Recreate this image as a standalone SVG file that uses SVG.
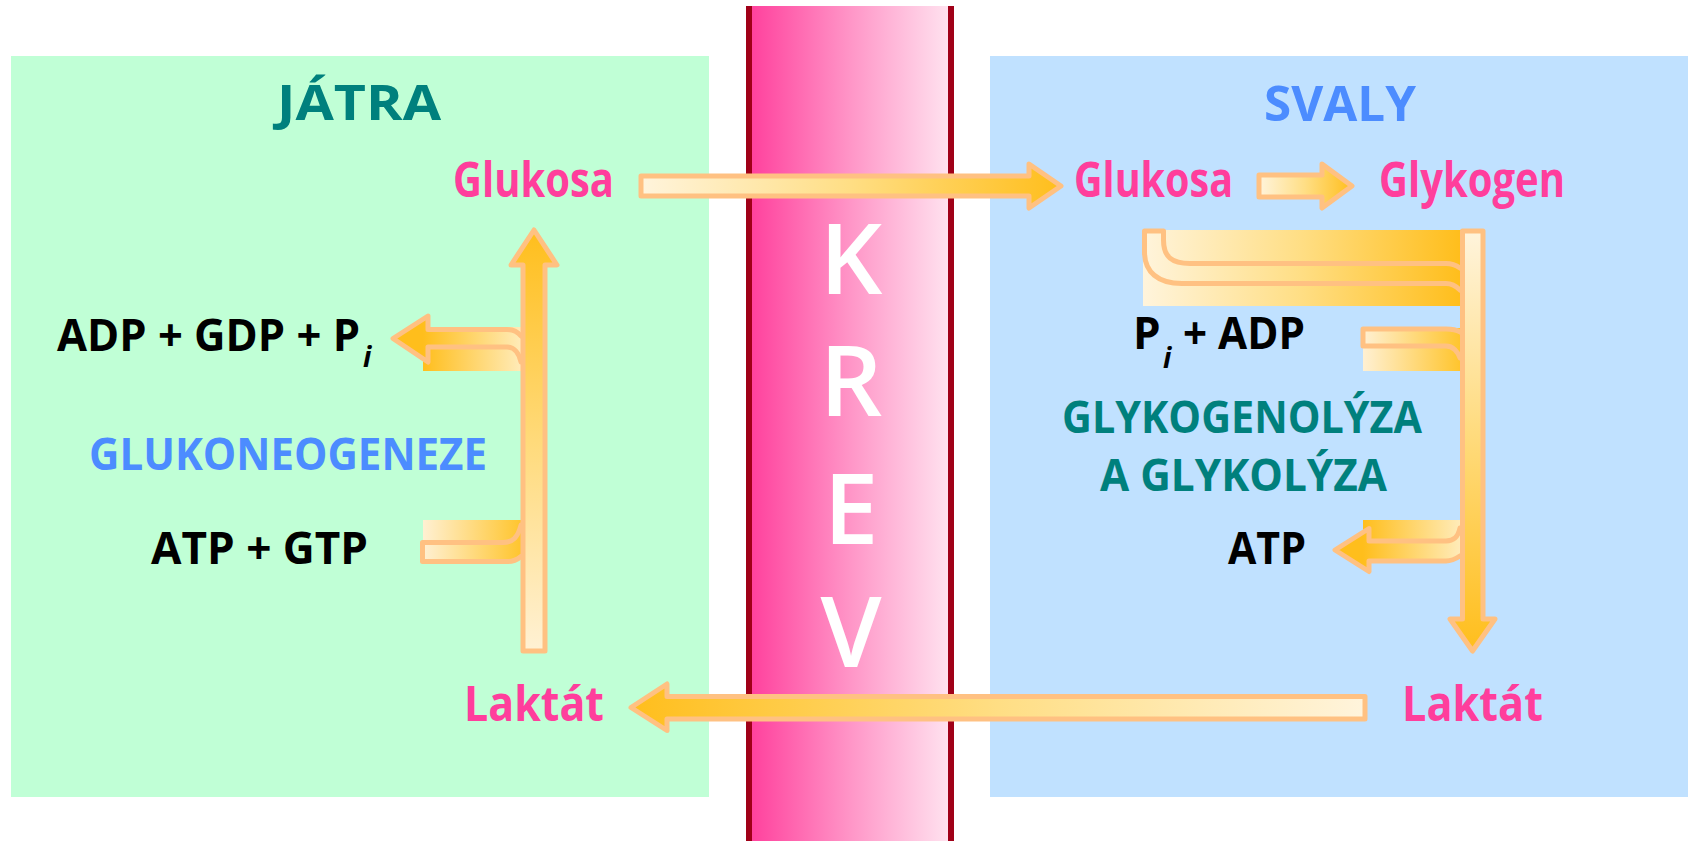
<svg xmlns="http://www.w3.org/2000/svg" width="1688" height="841" viewBox="0 0 1688 841">
  <style>
    text { font-family: "Open Sans", "DejaVu Sans", sans-serif; font-weight: 700; }
    .title { font-size: 49px; }
    .liver { fill: #00807D; }
    .muscle { fill: #4C8CFF; }
    .metab { font-size: 49px; fill: #FF3E9C; }
    .cof { font-size: 44px; fill: #000000; }
    .sub { font-size: 28px; font-style: italic; font-weight: 700; }
    .proc { font-size: 44px; }
    .blood { font-size: 98px; font-weight: 600; fill: #FFFFFF; text-anchor: middle; }
    .arrow { stroke: #FFC182; stroke-width: 5; stroke-linejoin: round; stroke-linecap: round; }
    .line { fill: none; stroke: #FFC182; stroke-width: 5; stroke-linejoin: round; stroke-linecap: round; }
  </style>
  <defs>
    <linearGradient id="paleToGold" x1="0" y1="0" x2="1" y2="0">
      <stop offset="0" stop-color="#FFF4DC"/>
      <stop offset="0.5" stop-color="#FFDE84"/>
      <stop offset="1" stop-color="#FFBE1C"/>
    </linearGradient>
    <linearGradient id="goldToPale" x1="0" y1="0" x2="1" y2="0">
      <stop offset="0" stop-color="#FFBE1C"/>
      <stop offset="0.5" stop-color="#FFDE84"/>
      <stop offset="1" stop-color="#FFF4DC"/>
    </linearGradient>
    <linearGradient id="upGold" x1="0" y1="0" x2="0" y2="1">
      <stop offset="0" stop-color="#FFBE1C"/>
      <stop offset="0.5" stop-color="#FFDA7A"/>
      <stop offset="1" stop-color="#FFF1D4"/>
    </linearGradient>
    <linearGradient id="downGold" x1="0" y1="0" x2="0" y2="1">
      <stop offset="0" stop-color="#FFF4DC"/>
      <stop offset="0.5" stop-color="#FFDA7A"/>
      <stop offset="1" stop-color="#FFBE1C"/>
    </linearGradient>
    <!-- branch fills, fixed to each branch's span -->
    <linearGradient id="brLiverOut" gradientUnits="userSpaceOnUse" x1="423" y1="0" x2="521" y2="0">
      <stop offset="0" stop-color="#FFBE1C"/>
      <stop offset="1" stop-color="#FFEBB8"/>
    </linearGradient>
    <linearGradient id="brLiverIn" gradientUnits="userSpaceOnUse" x1="421" y1="0" x2="521" y2="0">
      <stop offset="0" stop-color="#FFF1D6"/>
      <stop offset="1" stop-color="#FFC52E"/>
    </linearGradient>
    <linearGradient id="brGlyco" gradientUnits="userSpaceOnUse" x1="1143" y1="0" x2="1460" y2="0">
      <stop offset="0" stop-color="#FFF4DC"/>
      <stop offset="0.5" stop-color="#FFDE84"/>
      <stop offset="1" stop-color="#FFBE1C"/>
    </linearGradient>
    <linearGradient id="brMuscleIn" gradientUnits="userSpaceOnUse" x1="1361" y1="0" x2="1460" y2="0">
      <stop offset="0" stop-color="#FFF1D6"/>
      <stop offset="1" stop-color="#FFC52E"/>
    </linearGradient>
    <linearGradient id="brMuscleOut" gradientUnits="userSpaceOnUse" x1="1363" y1="0" x2="1460" y2="0">
      <stop offset="0" stop-color="#FFBE1C"/>
      <stop offset="1" stop-color="#FFEBB8"/>
    </linearGradient>
    <linearGradient id="bloodFill" x1="0" y1="0" x2="1" y2="0">
      <stop offset="0" stop-color="#FF3D9B"/>
      <stop offset="0.5" stop-color="#FF95C7"/>
      <stop offset="1" stop-color="#FFE6F1"/>
    </linearGradient>
  </defs>

  <rect width="1688" height="841" fill="#FFFFFF"/>

  <!-- compartments -->
  <g id="liver-panel">
    <rect x="11" y="56" width="698" height="741" fill="#C0FFD6"/>
    <text class="title liver" x="277" y="120" textLength="164" lengthAdjust="spacingAndGlyphs">JÁTRA</text>
  </g>
  <g id="muscle-panel">
    <rect x="990" y="56" width="698" height="741" fill="#C0E1FF"/>
    <text class="title muscle" x="1264" y="121" textLength="152" lengthAdjust="spacingAndGlyphs">SVALY</text>
  </g>
  <g id="blood">
    <rect x="746" y="6" width="208" height="835" fill="url(#bloodFill)"/>
    <rect x="746" y="6" width="6" height="835" fill="#A00018"/>
    <rect x="948" y="6" width="6" height="835" fill="#A00018"/>
    <text class="blood" x="851" y="294">K</text>
    <text class="blood" x="851" y="416">R</text>
    <text class="blood" x="851" y="544">E</text>
    <text class="blood" x="851" y="667">V</text>
  </g>

  <!-- connectors -->
  <g id="connectors">
    <!-- glucose from liver to muscle -->
    <path class="arrow" fill="url(#paleToGold)" d="M641,176 H1029 V164 L1061,186 L1029,208 V196 H641 Z"/>
    <!-- glucose to glycogen -->
    <path class="arrow" fill="url(#paleToGold)" d="M1259,175 H1322 V164 L1352,186 L1322,208 V197 H1259 Z"/>
    <!-- lactate from muscle back to liver -->
    <path class="arrow" fill="url(#goldToPale)" d="M1365,696.5 V719 H667 V730.5 L631,707.5 L667,684 V696.5 Z"/>

    <!-- liver: ADP + GDP + Pi released -->
    <rect x="423" y="327" width="100" height="44" fill="url(#brLiverOut)"/>
    <path fill="url(#brLiverOut)" stroke="none" d="M526,336 H521 C517,331 513,329.5 507,329.5 H428 V316 L393,338.5 L428,362 V347 H507 C514,347 519,353 521,362 H526 Z"/>
    <path class="line" d="M521,336 C517,331 513,329.5 507,329.5 H428 V316 L393,338.5 L428,362 V347 H507 C514,347 519,353 521,362"/>

    <!-- liver: ATP + GTP consumed -->
    <rect x="423" y="520" width="100" height="24" fill="url(#brLiverIn)"/>
    <path fill="url(#brLiverIn)" stroke="none" d="M526,525 H521 C518,537 513,542.5 503,542.5 H422.5 V561.5 H508 C514,561.5 518,559 521,556.5 H526 Z"/>
    <path class="line" d="M521,525 C518,537 513,542.5 503,542.5 H422.5 V561.5 H508 C514,561.5 518,559 521,556.5"/>

    <!-- liver: lactate to glucose -->
    <path class="arrow" fill="url(#upGold)" d="M523,651 V265 H511 L534,230 L557,265 H545 V651 Z"/>

    <!-- muscle: glycogen breakdown loop -->
    <rect x="1143" y="230" width="319" height="76" fill="url(#brGlyco)"/>
    <path class="line" d="M1460,268 C1455,264.5 1452,263.5 1446,263.5 H1190 C1172,263.5 1163.5,257 1163.5,240 V231 H1144.5 V252 C1144.5,272 1158,283.5 1182,283.5 H1446 C1452,283.5 1456,286 1460,290"/>

    <!-- muscle: Pi + ADP consumed -->
    <rect x="1363" y="328" width="99" height="43" fill="url(#brMuscleIn)"/>
    <path class="line" d="M1460,332 C1456,329.5 1452,329 1446,329 H1363 V346 H1446 C1453,346 1458,352 1460,358"/>

    <!-- muscle: ATP released -->
    <rect x="1363" y="520" width="99" height="22" fill="url(#brMuscleOut)"/>
    <path fill="url(#brMuscleOut)" stroke="none" d="M1465,528 H1460 C1458,537 1454,541 1446,541 H1369 V528.5 L1335,550 L1369,571.5 V561 H1446 C1452,561 1457,558 1460,556 H1465 Z"/>
    <path class="line" d="M1460,528 C1458,537 1454,541 1446,541 H1369 V528.5 L1335,550 L1369,571.5 V561 H1446 C1452,561 1457,558 1460,556"/>

    <!-- muscle: glycogen to lactate -->
    <path class="arrow" fill="url(#downGold)" d="M1462.5,231 H1483 V619 H1495 L1472.5,651 L1450,619 H1462.5 Z"/>
  </g>

  <!-- liver nodes -->
  <g id="liver-glucose">
    <text class="metab" x="453" y="197" textLength="161" lengthAdjust="spacingAndGlyphs">Glukosa</text>
  </g>
  <g id="liver-lactate">
    <text class="metab" x="464" y="721" textLength="140" lengthAdjust="spacingAndGlyphs">Laktát</text>
  </g>
  <g id="liver-released">
    <text class="cof"><tspan x="57" y="351" textLength="303" lengthAdjust="spacingAndGlyphs">ADP + GDP + P</tspan><tspan class="sub" x="363" y="367">i</tspan></text>
  </g>
  <g id="liver-process">
    <text class="proc muscle" x="89" y="470" textLength="398" lengthAdjust="spacingAndGlyphs">GLUKONEOGENEZE</text>
  </g>
  <g id="liver-consumed">
    <text class="cof" x="151" y="564" textLength="217" lengthAdjust="spacingAndGlyphs">ATP + GTP</text>
  </g>

  <!-- muscle nodes -->
  <g id="muscle-glucose">
    <text class="metab" x="1074" y="197" textLength="159" lengthAdjust="spacingAndGlyphs">Glukosa</text>
  </g>
  <g id="muscle-glycogen">
    <text class="metab" x="1379" y="197" textLength="186" lengthAdjust="spacingAndGlyphs">Glykogen</text>
  </g>
  <g id="muscle-consumed">
    <text class="cof" x="1133" y="349">P<tspan class="sub" x="1163" y="368">i</tspan><tspan x="1183" y="349" textLength="122" lengthAdjust="spacingAndGlyphs">+ ADP</tspan></text>
  </g>
  <g id="muscle-process">
    <text class="proc liver" x="1062" y="433" textLength="360" lengthAdjust="spacingAndGlyphs">GLYKOGENOLÝZA</text>
    <text class="proc liver" x="1100" y="491" textLength="287" lengthAdjust="spacingAndGlyphs">A GLYKOLÝZA</text>
  </g>
  <g id="muscle-released">
    <text class="cof" x="1228" y="564" textLength="78" lengthAdjust="spacingAndGlyphs">ATP</text>
  </g>
  <g id="muscle-lactate">
    <text class="metab" x="1402" y="721" textLength="141" lengthAdjust="spacingAndGlyphs">Laktát</text>
  </g>
</svg>
